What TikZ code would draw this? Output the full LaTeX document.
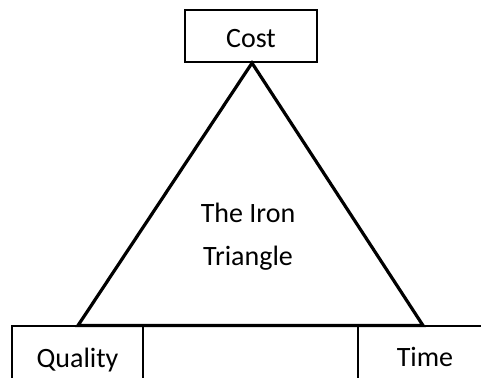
\documentclass[tikz,border=0pt]{standalone}
\usepackage{fontspec}
\setmainfont{Carlito}
\begin{document}
\begin{tikzpicture}[x=1pt,y=-1pt,
  box/.style={draw=black,line width=1.6pt,rectangle,inner sep=0pt,fill=white},
  lbl/.style={inner sep=0pt,anchor=base,font=\fontsize{28}{40}\selectfont},
  tri/.style={draw=black,line width=3.2pt,line join=miter}]
  \useasboundingbox (0,0) rectangle (481,377);
  \clip (0,0) rectangle (481,377);
  % corner boxes
  \node[box,minimum width=132pt,minimum height=52pt] (costbox) at (251,36) {};
  \node[box,minimum width=131pt,minimum height=80pt] (qualbox) at (77.5,366) {};
  \node[box,minimum width=142pt,minimum height=80pt] (timebox) at (429,366) {};
  % the triangle
  \coordinate (apex) at (252,63);
  \coordinate (left) at (78,325.5);
  \coordinate (right) at (423,325.5);
  \draw[tri] (apex) -- (left) -- (right) -- cycle;
  % texts
  \node[lbl] (cost) at (251,47.5) {Cost};
  \node[lbl] (quality) at (77.5,367) {Quality};
  \node[lbl] (time) at (425,366) {Time};
  \node[lbl] (iron1) at (248,222) {The Iron};
  \node[lbl] (iron2) at (248,265.5) {Triangle};
\end{tikzpicture}
\end{document}
